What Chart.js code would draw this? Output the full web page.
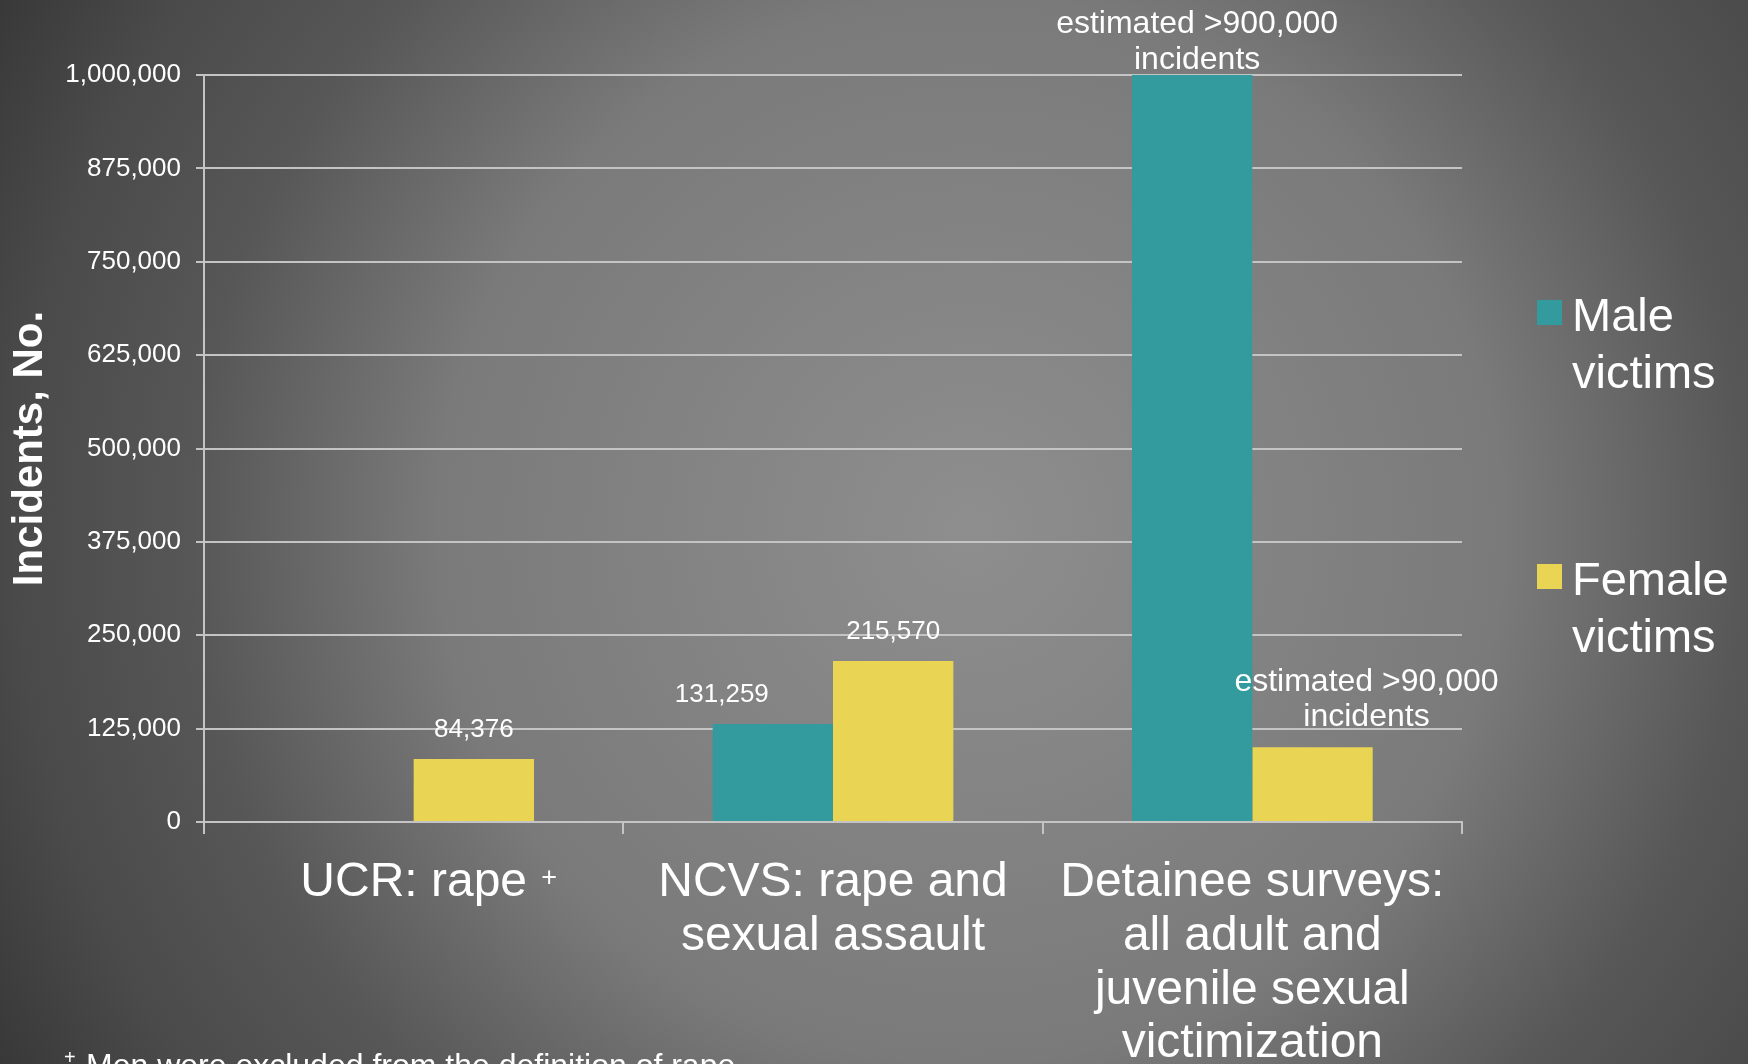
<!DOCTYPE html>
<html>
<head>
<meta charset="utf-8">
<script src="https://cdn.jsdelivr.net/npm/chart.js@4.4.1/dist/chart.umd.min.js"></script>
<style>
    html, body { margin: 0; padding: 0; }
    body {
        width: 1748px;
        height: 1064px;
        overflow: hidden;
        background: radial-gradient(circle 1110px at 970px 530px,
            #8e8e8e 0%, #7a7a7a 48%, #575757 70%, #4a4a4a 86%, #383838 100%);
    }
    canvas { display: block; }
</style>
</head>
<body>
<canvas id="incidentsChart" width="1748" height="1064"></canvas>
<script>
// chart data
const categories = [
    ['UCR: rape'],
    ['NCVS: rape and', 'sexual assault'],
    ['Detainee surveys:', 'all adult and', 'juvenile sexual', 'victimization']
];
const maleValues = [null, 131259, 1000000];
const femaleValues = [84376, 215570, 100000];
const maleLabels = [null, '131,259', ['estimated >900,000', 'incidents']];
const femaleLabels = ['84,376', '215,570', ['estimated >90,000', 'incidents']];
const seriesNames = ['Male victims', 'Female victims'];
const seriesColors = ['#339b9e', '#ead454'];
const yTicks = [0, 125000, 250000, 375000, 500000, 625000, 750000, 875000, 1000000];
const footnote = 'Men were excluded from the definition of rape.';

const FONT = "'Liberation Sans', Arial, sans-serif";
const GRID = '#c4c4c4';
Chart.defaults.font.family = FONT;

// value labels above the bars
const barLabels = {
    id: 'barLabels',
    afterDatasetsDraw(chart) {
        const ctx = chart.ctx;
        const all = [maleLabels, femaleLabels];
        ctx.save();
        ctx.fillStyle = '#ffffff';
        ctx.textAlign = 'center';
        ctx.textBaseline = 'middle';
        chart.data.datasets.forEach((ds, i) => {
            const meta = chart.getDatasetMeta(i);
            meta.data.forEach((bar, j) => {
                const lab = all[i][j];
                if (!lab) return;
                if (Array.isArray(lab)) {
                    // the long notes sit a bit off the bar, as in the slide
                    const dx = i === 0 ? 5 : 54;
                    const lift = i === 0 ? 15 : 30;
                    ctx.font = '32px ' + FONT;
                    lab.forEach((line, k) => {
                        const y = bar.y - lift - (lab.length - 1 - k) * 35.5;
                        ctx.fillText(line, bar.x + dx, y);
                    });
                } else {
                    // the male NCVS label is nudged left in the original
                    const dx = i === 0 ? -51 : 0;
                    ctx.font = '26px ' + FONT;
                    ctx.fillText(lab, bar.x + dx, bar.y - 29);
                }
            });
        });
        ctx.restore();
    }
};

// legend on the right, the "+" marks and the footnote
const sideLegend = {
    id: 'sideLegend',
    afterDraw(chart) {
        const ctx = chart.ctx;
        ctx.save();
        chart.data.datasets.forEach((ds, i) => {
            const top = 300 + i * 264;
            ctx.fillStyle = ds.backgroundColor;
            ctx.fillRect(1537, top, 25, 25);
            ctx.fillStyle = '#ffffff';
            ctx.font = '47px ' + FONT;
            ctx.textAlign = 'left';
            ctx.textBaseline = 'alphabetic';
            ds.label.split(' ').forEach((word, k) => {
                ctx.fillText(word, 1572, top + 31 + k * 57);
            });
        });

        // superscript plus after the first category label
        const xs = chart.scales.x;
        ctx.font = '48px ' + FONT;
        const w = ctx.measureText(categories[0][0]).width;
        ctx.font = '27px ' + FONT;
        ctx.textAlign = 'center';
        ctx.textBaseline = 'middle';
        ctx.fillText('+', xs.getPixelForValue(0) + w / 2 + 22, 879);

        ctx.textAlign = 'left';
        ctx.textBaseline = 'alphabetic';
        ctx.font = '20px ' + FONT;
        ctx.fillText('+', 64, 1064);
        ctx.font = '32px ' + FONT;
        ctx.fillText(footnote, 86, 1076);
        ctx.restore();
    }
};

const ctx = document.getElementById('incidentsChart').getContext('2d');
new Chart(ctx, {
    type: 'bar',
    data: {
        labels: categories,
        datasets: [
            {
                label: seriesNames[0],
                data: maleValues,
                backgroundColor: seriesColors[0],
                categoryPercentage: 0.574,
                barPercentage: 1.0
            },
            {
                label: seriesNames[1],
                data: femaleValues,
                backgroundColor: seriesColors[1],
                categoryPercentage: 0.574,
                barPercentage: 1.0
            }
        ]
    },
    plugins: [barLabels, sideLegend],
    options: {
        responsive: false,
        animation: false,
        layout: {
            padding: { top: 75, right: 286, bottom: 0, left: 0 }
        },
        plugins: {
            legend: { display: false },
            tooltip: { enabled: false }
        },
        scales: {
            x: {
                afterFit: scale => { scale.height = 242; },
                grid: {
                    offset: true,
                    drawOnChartArea: false,
                    color: GRID,
                    lineWidth: 2,
                    tickLength: 12
                },
                border: { color: GRID, width: 2 },
                ticks: {
                    color: '#ffffff',
                    font: { size: 48, lineHeight: 1.12 },
                    padding: 22,
                    maxRotation: 0,
                    autoSkip: false
                }
            },
            y: {
                min: 0,
                max: 1000000,
                afterFit: scale => { scale.width = 204; },
                afterBuildTicks: scale => {
                    scale.ticks = yTicks.map(v => ({ value: v }));
                },
                grid: {
                    color: GRID,
                    lineWidth: 2,
                    tickLength: 8
                },
                border: { color: GRID, width: 2 },
                ticks: {
                    color: '#ffffff',
                    font: { size: 26 },
                    padding: 15,
                    callback: v => v.toLocaleString('en-US')
                },
                title: {
                    display: true,
                    text: 'Incidents, No.',
                    color: '#ffffff',
                    font: { size: 42, weight: 'bold' },
                    padding: { top: 5, bottom: 0 }
                }
            }
        }
    }
});
</script>
</body>
</html>
